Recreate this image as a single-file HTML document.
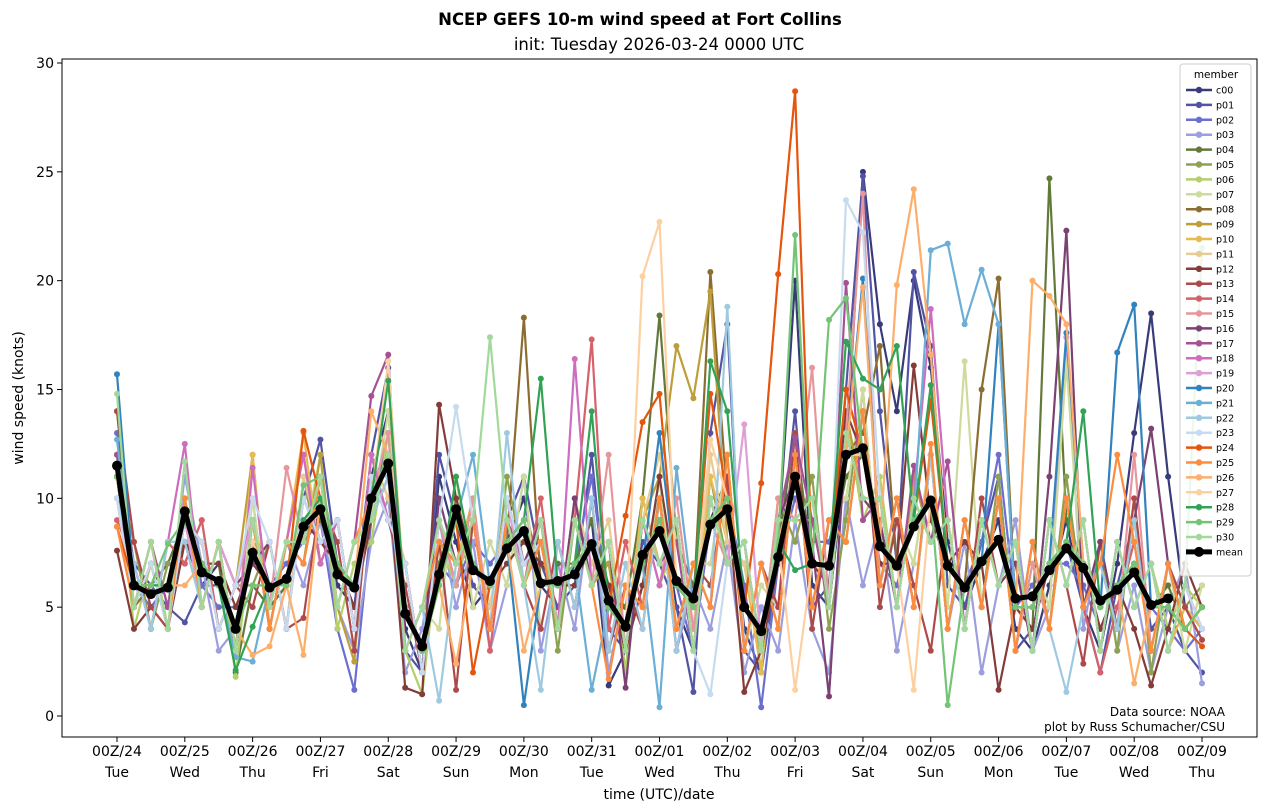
<!DOCTYPE html>
<html><head><meta charset="utf-8"><style>
body{margin:0;background:#fff;font-family:"Liberation Sans","DejaVu Sans",sans-serif;}
svg{display:block}
</style></head><body>
<svg id="chart" width="1266" height="812" xmlns="http://www.w3.org/2000/svg">
<rect width="1266" height="812" fill="#fff"/>
<text x="640" y="25" text-anchor="middle" font-size="16.5" font-weight="bold" font-family="DejaVu Sans, sans-serif">NCEP GEFS 10-m wind speed at Fort Collins</text>
<text x="659" y="50" text-anchor="middle" font-size="16.5" font-family="DejaVu Sans, sans-serif">init: Tuesday 2026-03-24 0000 UTC</text>
<g id="plot"></g>
<rect x="62" y="59" width="1195" height="678" fill="none" stroke="#000" stroke-width="1"/>
<g id="axes" font-family="DejaVu Sans, sans-serif" font-size="14"></g>
<text transform="translate(23,398) rotate(-90)" text-anchor="middle" font-size="14" font-family="DejaVu Sans, sans-serif">wind speed (knots)</text>
<text x="659" y="799" text-anchor="middle" font-size="14" font-family="DejaVu Sans, sans-serif">time (UTC)/date</text>
<text x="1225" y="716" text-anchor="end" font-size="12" font-family="DejaVu Sans, sans-serif">Data source: NOAA</text>
<text x="1225" y="731" text-anchor="end" font-size="12" font-family="DejaVu Sans, sans-serif">plot by Russ Schumacher/CSU</text>
<g id="legend" font-family="DejaVu Sans, sans-serif" font-size="9.5"></g>
</svg>
<script>
const members = ["c00","p01","p02","p03","p04","p05","p06","p07","p08","p09","p10","p11","p12","p13","p14","p15","p16","p17","p18","p19","p20","p21","p22","p23","p24","p25","p26","p27","p28","p29","p30"];
const colors = ["#393b79","#5254a3","#6b6ecf","#9c9ede","#637939","#8ca252","#b5cf6b","#cedb9c","#8c6d31","#bd9e39","#e7ba52","#e7cb94","#843c39","#ad494a","#d6616b","#e7969c","#7b4173","#a55194","#ce6dbd","#de9ed6","#3182bd","#6baed6","#9ecae1","#c6dbef","#e6550d","#fd8d3c","#fdae6b","#fdd0a2","#31a354","#74c476","#a1d99b"];
const dayLabels = ["00Z/24","00Z/25","00Z/26","00Z/27","00Z/28","00Z/29","00Z/30","00Z/31","00Z/01","00Z/02","00Z/03","00Z/04","00Z/05","00Z/06","00Z/07","00Z/08","00Z/09"];
const weekdays = ["Tue","Wed","Thu","Fri","Sat","Sun","Mon","Tue","Wed","Thu","Fri","Sat","Sun","Mon","Tue","Wed","Thu"];
const yTicks = [0,5,10,15,20,25,30];
const meanSeries = [11.5,6.0,5.6,5.9,9.4,6.6,6.2,4.0,7.5,5.9,6.3,8.7,9.5,6.5,5.9,10.0,11.6,4.7,3.2,6.5,9.5,6.7,6.2,7.7,8.5,6.1,6.2,6.5,7.9,5.3,4.1,7.4,8.5,6.2,5.4,8.8,9.5,5.0,3.9,7.3,11.0,7.0,6.9,12.0,12.3,7.8,6.9,8.7,9.9,6.9,5.9,7.1,8.1,5.4,5.5,6.7,7.7,6.8,5.3,5.8,6.6,5.1,5.4];
const s00 = [11,6,5,6,8,6,7,3,8,5,6,9,10,6,5,11,14,4,2,11,8,5,6,8,10,6,5,7,9,1.4,3,6,10,5,3,9,11,4,2,8,20,6,5,12,25,18,14,20,16,8,5,7,9,4,3,6,9,5,3,7,13,18.5,11,5,4];
const s01 = [12,7,6,5,4.3,6,6,4,9,6,6,10,12.7,7,5,12,16,3,2,12,9,6,5,9,11,7,5,6,12,4,3,8,7,5,1.1,13,18,3,2,7,14,5,6,15,24.8,14,7,20.4,17,6,5,8,11,3,4,7,8,5,2,6,9,4,5,3,2];
const s02 = [13,6,5,6,10,6,5,5,7,6,7,8,9,4,1.2,9,13,5,3,7,6,8,7,8,9,6,6,7,11,5,5,7,10,6,3,9,10,6,0.4,7,10,8,8,11,12,7,6,9,10,7,6,8,12,5,6,7,7,6,4,6,7,5,4,3,4];
const s03 = [10,5,8,5,11,7,3,4,10,4,8,6,9,5,3,8,10,2,4,9,5,8,3,6,11,3,7,4,10,2,6,5,11,3,6,4,8,2,5,3,9,4,2,10,6,9,3,7,12,4,8,2,6,9,3,5,17.4,4,8,3,6,2,5,7,1.5];
const s04 = [14,6,6,7,9,7,7,2,6,5,6,9,9,7,6,10,12,5,3,7,10,7,6,8,9,6,7,7,9,6,5,10,18.4,8,6,9,10,5,4,8,13,7,7,11,12,8,7,9,10,7,6,7,8,5,4,24.7,9,7,5,6,7,5,6,4,5];
const s05 = [11,8,4,7,7,9,4,6,6,8,4,11,7,9,4,12,9,7,2,9,6,10,4,11,7,9,3,9,6,8,2,10,7,9,3,11,7,8,2,10,8,11,4,9,15,6,10,5,12,4,9,5,11,3,8,4,11,5,8,3,10,2,7,5,6];
const s06 = [12,4,7,4,10,5,8,1.8,9,4,8,7,12,4,7,8,13,3,1,8,6,9,4,9,6,8,4,9,6,7,2,9,6,8,3,10,7,7,2,9,9,10,5,14,9,11,5,11,8,9,4,9,6,7,3,9,6,9,3,8,5,7,4,6,5];
const s07 = [11,7,4,8,8,5,8,3,10,4,8,8,12,5,8,9,14,3,5,4,11,5,8,6,11,4,8,5,10,3,6,5,11,4,7,7,12,3,6,5,13,5,9,10,15,6,9,7,12,5,16.3,5,10,3,7,5,16.2,5,7,4,9,3,7,3,6];
const s08 = [11,5,6,6,8,7,6,4,8,6,6,9,10,7,6,9,12,5,3,6,9,7,6,8,18.3,6,6,7,8,5,4,7,9,6,5,20.4,10,5,4,8,11,7,7,12,13,17,7,9,10,7,6,15,20.1,5,5,7,8,7,5,6,7,5,5,4,5];
const s09 = [12,5,7,4,9,8,4,6,12,4,8,7,12,5,2.5,12,10,7,2,8,7,9,4,10,7,8,4,9,6,7,3,9,11,17,14.6,19.5,8,7,3,10,9,9,5,14,10,10,5,11,8,9,4,9,6,7,3,9,6,9,3,8,5,7,3,6,4];
const s10 = [11,5,8,5,10,5,8,3,12,4,8,13,7,9,4,12,10,7,2,9,7,10,4,9,7,8,4,10,6,8,3,10,7,9,3,11,8,7,2,10,9,10,5,13,10,10,5,10,8,9,4,9,6,8,3,9,6,9,3,8,5,7,3,5,4];
const s11 = [10,7,4,8,8,5,8,6,7,8,4,11,8,9,4,12,10,7,2,9,7,9,5,10,7,8,4,10,7,9,3,9,12,8,4,12,8,7,3,10,9,10,5,13,10,10,5,10,8,9,4,9,6,8,3,9,6,9,3,8,5,7,3,6,4];
const s12 = [7.6,4,5,4,8,7,7,5,7,6,6,9,8,7,5,9,11,1.3,1,14.3,10,7,6,7,8,7,6,6,8,6,3,6,11,6,5,9,10,1.1,3,7,12,7,6,14,12,7,7,16.1,9,7,8,7,1.2,5,4,7,8,7,4,6,4,1.4,4,7,5];
const s13 = [14,8,5,4,9,5,8,6,5,8,4,4.5,10,8,3,11,9,6,2,8,1.2,9,4,10,6,4,8,5,10,3,6,4,10,3,7,6,11,3,7,5,13,4,9,8,14,5,9,6,3,9,4,10,6,8,3,9,6,2.4,8,4,10,3,7,5,3.5];
const s14 = [9,7,4,8,7,9,4,6,9,4,8,12,7,9,4,12,9,7,2,9,6,10,3,9,6,10,4,9,17.3,4,8,5,10,4,7,5,12,3,7,4,12,5,9,8,14,6,10,5,12,4,9,5,10,3,8,4,10,5,2,5,8,3,7,4,5];
const s15 = [10,5,8,4,9,5,8,3,9,5,11.4,8,11,5,8,10,13,3,5,9,6,10,4,10,7,8,4,10,6,12,3,9,6,10,4,9,7,8,3,10,9,16,5,13,24,6,10,5,12,4,9,5,10,3,7,4,10,5,7,4,12,3,7,4,5];
const s16 = [11,5,7,4,9,8,4,6,7,8,4,10,8,9,4,11,9,7,2,10,7,9,4,10,7,9,4,10,6,8,1.3,9,7,9,3,10,7,8,3,9,11,8,0.9,13,10,9,5,10,8,9,4,9,6,7,3,11,22.3,5,8,4,9,13.2,7,4,5];
const s17 = [12,5,8,5,10,5,8,3,9,4,8,7,11,5,8,14.7,16.6,3,5,8,7,9,4,9,7,8,4,9,6,8,3,9,7,8,3,10,7,8,3,9,12.8,9,5,19.9,9,10,5,11.5,8,11.7,4,9,6,8,3,9,6,9,3,8,5,7,3,6,4];
const s18 = [11,7,4,8,12.5,5,8,3,11.4,5,8,12,7,9,4,12,9,7,2,9,7,9,4,10,6,9,4,16.4,6,8,3,9,6,9,3,10,7,8,3,9,9,10,5,13,10,10,5,10,18.7,9,4,9,6,8,3,9,6,9,3,8,5,7,3,6,4];
const s19 = [10,5,8,4,9,5,8,6,9,5,8,8,11,5,8,10,12,3,5,9,7,9,4,10,6,9,4,9,6,8,3,9,7,9,3,10,7,13.4,3,9,9,10,5,13,10,10,5,10,8,9,4,9,6,8,3,9,6,9,3,8,5,7,3,6,4];
const s20 = [15.7,6,6,6,9,7,6,4,8,6,6,9,10,7,6,10,12,5,3,6,9,7,6,8,0.5,6,6,7,8,5,4,7,13,6,5,9,10,5,4,8,11,7,7,12,20.1,8,7,9,10,7,6,7,18,5,5,7,17.6,7,5,16.7,18.9,5,5,4,5];
const s21 = [12.7,6,6,6,9,7,6,2.7,2.5,6,6,9,10,7,6,10,12,5,3,6,9,12,6,8,9,6,6,7,1.2,5,4,7,0.4,11.4,5,9,10,5,4,8,11,7,7,12,12,8,7,9,21.4,21.7,18,20.5,18,5,5,7,8,7,5,6,7,5,5,4,5];
const s22 = [10,7,4,8,8,5,8,3,9,5,8,8,11,5,8,9,11,3,5,0.7,7,9,4,13,6,1.2,8,5,10,3,7,4,10,3,7,5,18.8,3,7,4,12,5,9,8,14,6,10,5,12,4,9,5,10,3,8,4,1.1,5,7,4,9,3,7,4,5];
const s23 = [10,5,7,4,9,8,4,6,10,8,4,10,8,9,4,11,9,7,2,9,14.2,9,4,10,7,8,4,9,6,8,3,9,7,9,3,1,7,8,3,9,9,10,5,23.7,22.2,10,5,10,8,9,4,9,6,8,3,9,6,9,3,8,5,7,3,6,4];
const s24 = [8.7,6,6,6,9,7,6,4,8,6,6,13.1,10,7,6,10,12,5,3,6,9,2,6,8,9,6,6,7,8,5,9.2,13.5,14.8,6,5,14.8,10,5,10.7,20.3,28.7,7,7,15,12,8,7,9,14.5,7,6,7,8,5,5,7,8,7,5,6,7,5,5,4,3.2];
const s25 = [8.7,5,8,4,10,5,8,3,9,4,8,7,11,5,8,10,12,3,5,8,7,9,4,9,6,8,4,9,6,1.7,6,5,10,4,7,5,12,3,7,4,12,5,9,8,14,6,10,5,12.5,4,9,5,10,3,8,4,10,5,7,12,8,3,7,4,5];
const s26 = [11,6,6,6,6,7,6,4,2.8,3.2,6,2.8,10,7,6,14,12,5,3,6,2.4,7,6,8,3,6,6,7,8,5,4,7,9,6,5,9,10,5,4,8,11,7,7,12,19.7,8,19.8,24.2,16.6,7,6,7,8,5,20,19.3,18,7,5,6,1.5,5,5,4,5];
const s27 = [11,6,6,6,9,7,6,4,8,6,6,9,10,7,6,10,16.3,5,3,6,9,7,6,8,9,6,6,7,8,5,4,20.2,22.7,6,5,12.7,10,5,4,8,1.2,7,7,12,12,8,7,1.2,10,7,6,7,8,5,5,7,8,7,5,6,7,5,5,4,5];
const s28 = [11,6,6,6,9,7,6,2.1,4.1,6,6,9,10,7,6,10,15.4,5,3,6,11,7,6,8,9,15.5,6,7,14,5,4,7,9,6,5,16.3,14,5,4,8,6.7,7,7,17.2,15.5,15,17,9,15.2,7,6,7,8,5,5,7,8,14,5,6,7,5,5,4,5];
const s29 = [11,6,6,7.9,9,7,6,4,6,6,6,10.6,11,7,6,10,12,5,3,6,9,7,6,8,9,6,6,7,8,5,4,7,9,6,5,9,10,5,4,8,22.1,7,18.2,19.2,12,8,7,9,10,0.5,6,7,8,5,5,7,8,7,5,6,7,5,5,4,5];
const s30 = [14.8,5,8,4,11.7,5,8,3,9,5,8,8,11,5,8,9,12,3,5,9,7,9,17.4,9,6,9,4,9,6,8,3,9,7,9,3,10,7,8,3,9,9,10,5,13,10,10,5,10,8,9,4,9,6,8,3,9,6,9,3,8,5,7,3,6,21.5];
const series = [s00,s01,s02,s03,s04,s05,s06,s07,s08,s09,s10,s11,s12,s13,s14,s15,s16,s17,s18,s19,s20,s21,s22,s23,s24,s25,s26,s27,s28,s29,s30];

const NS = "http://www.w3.org/2000/svg";
const X0 = 117, STEP = (1202 - 117) / 64;
const xScale = i => X0 + i * STEP;
const yScale = v => 716 - v * (653 / 30);
function mk(tag, attrs, parent) { const e = document.createElementNS(NS, tag); for (const k in attrs) e.setAttribute(k, attrs[k]); parent.appendChild(e); return e; }

const plot = document.getElementById("plot");
series.forEach((vals, s) => {
  const g = mk("g", {}, plot);
  
  
  const pts = vals.map((v, i) => xScale(i).toFixed(1) + "," + yScale(v).toFixed(1)).join(" ");
  const pl = mk("polyline", { points: pts, fill: "none", stroke: colors[s], "stroke-width": 2.2, "stroke-linejoin": "round" }, g);
  
  
  vals.forEach((v, i) => {
    const c = mk("circle", { cx: xScale(i), cy: yScale(v), r: 3, fill: colors[s] }, g);
    
    
  });
});
const mg = mk("g", {}, plot);


const mpl = mk("polyline", { points: meanSeries.map((v, i) => xScale(i).toFixed(1) + "," + yScale(v).toFixed(1)).join(" "), fill: "none", stroke: "#000", "stroke-width": 5, "stroke-linejoin": "round" }, mg);


meanSeries.forEach((v, i) => {
  const c = mk("circle", { cx: xScale(i), cy: yScale(v), r: 5, fill: "#000" }, mg);
  
  
});

const axes = document.getElementById("axes");
yTicks.forEach(t => {
  const y = yScale(t);
  const l = mk("line", { x1: 57, x2: 62, y1: y, y2: y, stroke: "#000" }, axes);
  
  
  const tx = mk("text", { x: 54, y: y + 5, "text-anchor": "end" }, axes);
  tx.textContent = t;
  
  
});
dayLabels.forEach((d, k) => {
  const x = xScale(k * 4);
  const l = mk("line", { x1: x, x2: x, y1: 737, y2: 742, stroke: "#000" }, axes);
  
  
  const t1 = mk("text", { x: x, y: 756, "text-anchor": "middle" }, axes);
  t1.textContent = d;
  
  
  const t2 = mk("text", { x: x, y: 777, "text-anchor": "middle" }, axes);
  t2.textContent = weekdays[k];
  
  
});

const lg = document.getElementById("legend");
const box = mk("rect", { x: 1180, y: 64, width: 71, height: 512, rx: 3, fill: "#fff", "fill-opacity": 0.8, stroke: "#ccc" }, lg);


const lt = mk("text", { x: 1216, y: 78, "text-anchor": "middle", "font-size": 10.5 }, lg);
lt.textContent = "member";


const names = members.concat(["mean"]), cols = colors.concat(["#000"]);
names.forEach((n, k) => {
  const y = 90 + k * 14.9;
  const g = mk("g", {}, lg);
  
  
  const w = n === "mean" ? 5 : 2.5;
  mk("line", { x1: 1186, x2: 1212, y1: y, y2: y, stroke: cols[k], "stroke-width": w }, g);
  mk("circle", { cx: 1199, cy: y, r: n === "mean" ? 5 : 3.2, fill: cols[k] }, g);
  const t = mk("text", { x: 1216, y: y + 3.5 }, g);
  t.textContent = n;
});
</script>
</body></html>
